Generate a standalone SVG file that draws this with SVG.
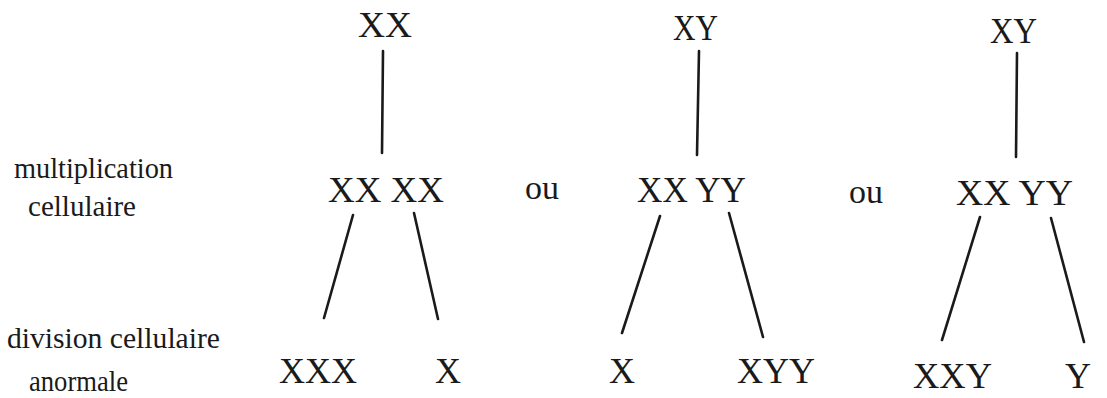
<svg xmlns="http://www.w3.org/2000/svg" width="1107" height="398" viewBox="0 0 1107 398">
<style>
text{font-family:"Liberation Serif","Times New Roman",serif;fill:#1a1a1a}
.big{font-size:36px}
.lab{font-size:29px}
.ou{font-size:34px}
.con line{stroke:#1a1a1a;stroke-width:2.6;stroke-linecap:round}
</style>
<rect width="1107" height="398" fill="#fff"/>
<g id="labels">
<text class="lab" x="14" y="178" textLength="159" lengthAdjust="spacingAndGlyphs">multiplication</text>
<text class="lab" x="28" y="216" textLength="108" lengthAdjust="spacingAndGlyphs">cellulaire</text>
<text class="lab" x="7" y="348" textLength="213" lengthAdjust="spacingAndGlyphs">division cellulaire</text>
<text class="lab" x="29" y="391" textLength="99" lengthAdjust="spacingAndGlyphs">anormale</text>
</g>
<g id="ou1"><text class="ou" x="525" y="199">ou</text></g>
<g id="ou2"><text class="ou" x="849" y="203">ou</text></g>
<g id="t1-top"><text class="big" x="358" y="37" textLength="54" lengthAdjust="spacingAndGlyphs">XX</text></g>
<g id="t1-mid"><text class="big" x="328" y="202" textLength="116" lengthAdjust="spacingAndGlyphs">XX XX</text></g>
<g id="t1-l"><text class="big" x="279" y="383" textLength="78" lengthAdjust="spacingAndGlyphs">XXX</text></g>
<g id="t1-r"><text class="big" x="435" y="383">X</text></g>
<g id="t2-top"><text class="big" x="673" y="40" textLength="45" lengthAdjust="spacingAndGlyphs">XY</text></g>
<g id="t2-mid"><text class="big" x="637" y="202" textLength="109" lengthAdjust="spacingAndGlyphs">XX YY</text></g>
<g id="t2-l"><text class="big" x="609" y="383">X</text></g>
<g id="t2-r"><text class="big" x="737" y="383" textLength="78" lengthAdjust="spacingAndGlyphs">XYY</text></g>
<g id="t3-top"><text class="big" x="990" y="43" textLength="47" lengthAdjust="spacingAndGlyphs">XY</text></g>
<g id="t3-mid"><text class="big" x="956" y="205" textLength="117" lengthAdjust="spacingAndGlyphs">XX YY</text></g>
<g id="t3-l"><text class="big" x="913" y="388" textLength="79" lengthAdjust="spacingAndGlyphs">XXY</text></g>
<g id="t3-r"><text class="big" x="1065" y="388">Y</text></g>
<g id="connectors" class="con">
<line x1="383" y1="51" x2="382" y2="153"/>
<line x1="353" y1="215" x2="324" y2="318"/>
<line x1="414" y1="213" x2="438" y2="319"/>
<line x1="699" y1="51" x2="697" y2="155"/>
<line x1="660" y1="216" x2="622" y2="333"/>
<line x1="729" y1="213" x2="763" y2="337"/>
<line x1="1017" y1="53" x2="1016" y2="157"/>
<line x1="980" y1="217" x2="942" y2="340"/>
<line x1="1051" y1="218" x2="1084" y2="342"/>
</g>
</svg>
